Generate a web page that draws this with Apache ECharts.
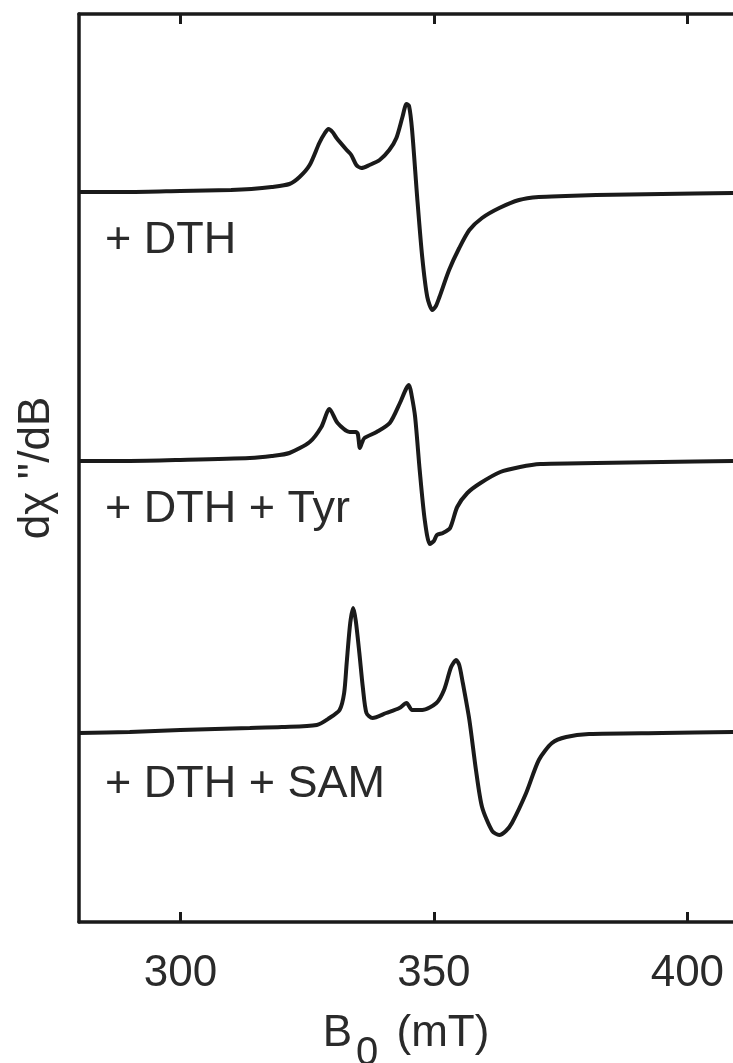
<!DOCTYPE html>
<html>
<head>
<meta charset="utf-8">
<title>EPR spectra</title>
<script src="https://cdn.jsdelivr.net/npm/echarts@6/dist/echarts.min.js"></script>
<style>
  html, body { margin: 0; padding: 0; background: #fff; }
  #chart { width: 733px; height: 1063px; }
</style>
</head>
<body>
<div id="chart"></div>
<script>
// field axis (mT) and tick labels
const xTickValues = [300, 350, 400];

// + DTH  (intensity, a.u., relative to its own baseline)
const dthField = [280, 290, 300, 310, 314, 318, 321.5, 323.5, 325.5, 327.4, 328.5, 329.2, 330, 330.8, 332.8, 333.7, 334.7, 335.7, 337.3, 339.3, 341.2, 342.6, 343.8, 344.6, 345.1, 345.7, 346.7, 347.7, 348.7, 349.7, 350.4, 351.1, 353.0, 355.0, 357.0, 359.5, 362.9, 366.8, 370.7, 376, 382, 395, 409];
const dthSignal = [0, 0, 1, 2, 3, 5, 8, 15, 27, 49, 59, 63, 60, 54, 42, 37, 27, 24, 27, 32, 42, 54, 75, 88, 86, 62, -5, -65, -105, -118, -114, -105, -78, -56, -38, -26, -16, -8, -5, -4, -3, -2, -1];

// + DTH + Tyr
const tyrField = [280, 290, 300, 313.7, 318, 321.5, 325.5, 327.8, 329.4, 331.0, 333.4, 334.6, 335.0, 335.4, 335.8, 336.3, 338.7, 341.3, 343.3, 344.5, 345.1, 345.6, 346.3, 347.2, 348.2, 349.2, 350.0, 350.6, 351.8, 353.2, 354.6, 356.6, 359.2, 363.1, 367, 371, 382, 395, 409];
const tyrSignal = [0, 0, 1, 3, 5, 8, 19, 34, 52, 38, 29, 29, 27, 13, 18, 23, 29, 38, 58, 72, 76, 66, 44, -9, -59, -83, -80, -74, -72, -67, -46, -32, -22, -11, -6, -3, -2, -1, 0];

// + DTH + SAM
const samField = [280, 290, 300, 313.7, 320, 326.9, 329.4, 331.4, 332.3, 332.8, 333.5, 334.1, 334.6, 335.3, 336.0, 336.7, 337.9, 340.6, 343.2, 344.6, 345.7, 347.7, 350.5, 352.0, 353.4, 354.4, 355.0, 355.6, 357.0, 358.3, 359.5, 361.5, 362.9, 364.2, 365.4, 368.2, 370.7, 373.3, 376.1, 380.6, 395, 409];
const samSignal = [0, 1, 3, 5, 6, 8, 15, 23, 40, 70, 110, 125, 112, 80, 45, 20, 15, 20, 25, 30, 23, 23, 30, 43, 66, 73, 68, 53, 13, -37, -74, -98, -102, -98, -90, -60, -27, -10, -4, -1, 0, 1];

// vertical stacking offsets of the three traces
const traceNames = ['+ DTH', '+ DTH + Tyr', '+ DTH + SAM'];
const traceOffsets = [730, 461, 189];

const FONT = 'Liberation Sans, Arial, Helvetica, sans-serif';
const INK = '#1a1a1a';
const TEXT = '#2a2a2a';

function toPoints(field, signal, offset) {
  return field.map((x, i) => [x, signal[i] + offset]);
}

const traces = [
  toPoints(dthField, dthSignal, traceOffsets[0]),
  toPoints(tyrField, tyrSignal, traceOffsets[1]),
  toPoints(samField, samSignal, traceOffsets[2])
];

const labelY = [241, 510, 785];

const chart = echarts.init(document.getElementById('chart'));

const axisLine = { show: true, lineStyle: { color: INK, width: 3.5 } };
const axisTick = { show: true, inside: true, length: 10, customValues: xTickValues, lineStyle: { color: INK, width: 3 } };

const option = {
  animation: false,
  backgroundColor: '#fff',
  grid: { left: 79, right: 0, top: 14, bottom: 141, outerBoundsMode: 'none', containLabel: false },
  xAxis: [
    {
      type: 'value',
      min: 280,
      max: 409,
      position: 'bottom',
      axisLine: axisLine,
      axisTick: axisTick,
      splitLine: { show: false },
      axisLabel: {
        customValues: xTickValues,
        margin: 30,
        fontSize: 44,
        fontFamily: FONT,
        color: TEXT
      },
      name: 'B{sub|0} (mT)',
      nameLocation: 'middle',
      nameGap: 90,
      nameTextStyle: {
        fontSize: 44,
        fontFamily: FONT,
        color: TEXT,
        lineHeight: 44,
        verticalAlign: 'top',
        rich: {
          sub: { fontSize: 40, fontFamily: FONT, color: TEXT, padding: [22, 6, 0, 4], lineHeight: 44, verticalAlign: 'top' }
        }
      }
    },
    {
      type: 'value',
      min: 280,
      max: 409,
      position: 'top',
      axisLine: axisLine,
      axisTick: axisTick,
      axisLabel: { show: false },
      splitLine: { show: false }
    }
  ],
  yAxis: {
    type: 'value',
    min: 0,
    max: 908,
    axisLine: axisLine,
    axisTick: { show: false },
    axisLabel: { show: false },
    splitLine: { show: false },
    name: "dχ ''/dB",
    nameLocation: 'middle',
    nameRotate: 90,
    nameGap: 20,
    nameTextStyle: { fontSize: 44, fontFamily: FONT, color: TEXT }
  },
  series: traces.map((pts, i) => ({
    name: traceNames[i],
    type: 'line',
    xAxisIndex: 0,
    data: pts,
    smooth: 0.25,
    showSymbol: false,
    lineStyle: { color: INK, width: 4 }
  })),
  graphic: traceNames.map((name, i) => ({
    type: 'text',
    x: 105,
    y: labelY[i],
    style: {
      text: name,
      fontSize: 45,
      fontFamily: FONT,
      fill: TEXT,
      verticalAlign: 'middle'
    }
  }))
};

chart.setOption(option);
</script>
</body>
</html>
